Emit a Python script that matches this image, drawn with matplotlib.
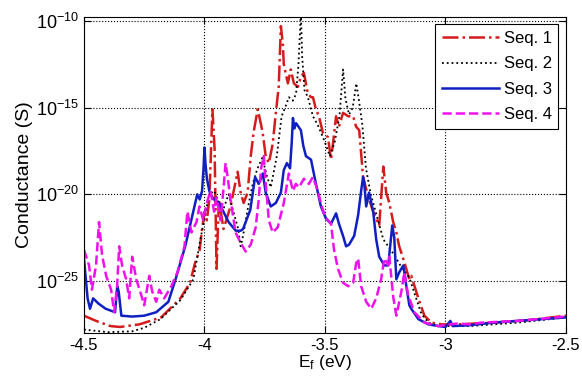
import matplotlib
matplotlib.use("Agg")
import matplotlib.pyplot as plt
import numpy as np

plt.rcParams['font.family'] = ['Liberation Sans', 'DejaVu Sans']
plt.rcParams['mathtext.fontset'] = 'custom'
plt.rcParams['mathtext.rm'] = 'Liberation Sans'
plt.rcParams['mathtext.it'] = 'Liberation Sans:italic'

# Fermi energy (eV) and log10 of conductance (S) for each sequence
e_seq1 = [-4.5, -4.45, -4.39, -4.35, -4.27, -4.18, -4.10, -4.06, -4.04, -4.02,
          -4.01, -4.00, -3.99, -3.98, -3.967, -3.958, -3.95, -3.94, -3.921, -3.892,
          -3.8625, -3.85, -3.8375, -3.821, -3.808, -3.796, -3.779, -3.765, -3.758, -3.746,
          -3.733, -3.717, -3.704, -3.692, -3.683, -3.675, -3.671, -3.654, -3.642, -3.629,
          -3.6125, -3.60, -3.5875, -3.571, -3.558, -3.55, -3.5375, -3.525, -3.508, -3.4875,
          -3.475, -3.467, -3.454, -3.442, -3.425, -3.404, -3.383, -3.371, -3.358, -3.342,
          -3.329, -3.317, -3.30, -3.2875, -3.275, -3.258, -3.246, -3.233, -3.217, -3.204,
          -3.192, -3.171, -3.15, -3.142, -3.1125, -3.0875, -3.058, -3.017, -2.95, -2.8,
          -2.65, -2.5]
g_seq1 = [-27.0, -27.3, -27.6, -27.65, -27.5, -27.1, -26.0, -25.1, -24.0, -23.2,
          -22.0, -21.0, -21.5, -20.3, -15.1, -17.4, -24.3, -20.3, -22.0, -20.7,
          -18.7, -19.9, -20.5, -19.9, -17.8, -16.4, -15.1, -16.0, -16.5, -17.8,
          -18.2, -17.1, -15.3, -13.8, -10.3, -11.3, -12.5, -13.6, -12.8, -13.6,
          -13.8, -13.2, -13.0, -14.2, -14.4, -14.4, -15.1, -15.5, -16.5, -16.7,
          -18.0, -17.1, -15.5, -16.1, -15.3, -15.5, -15.5, -16.1, -16.3, -19.0,
          -19.7, -20.3, -21.0, -21.4, -21.8, -18.4, -19.9, -20.5, -21.6, -22.2,
          -23.0, -23.9, -24.9, -24.7, -26.0, -27.0, -27.4, -27.5, -27.5, -27.4,
          -27.25, -27.0]

e_seq2 = [-4.5, -4.4, -4.3, -4.25, -4.183, -4.10, -4.046, -4.017, -3.996, -3.98,
          -3.96, -3.94, -3.92, -3.90, -3.88, -3.86, -3.85, -3.84, -3.82, -3.80,
          -3.78, -3.76, -3.74, -3.725, -3.70, -3.68, -3.66, -3.65, -3.633, -3.62,
          -3.61, -3.60, -3.595, -3.585, -3.571, -3.55, -3.53, -3.5, -3.48, -3.46,
          -3.44, -3.425, -3.415, -3.40, -3.385, -3.37, -3.36, -3.345, -3.33, -3.31,
          -3.29, -3.258, -3.2125, -3.183, -3.15, -3.129, -3.1, -3.071, -3.03, -2.9,
          -2.7, -2.5]
g_seq2 = [-27.8, -27.95, -27.9, -27.7, -27.2, -26.1, -24.9, -22.6, -21.1, -20.0,
          -19.8, -20.5, -20.8, -20.0, -21.0, -22.0, -23.0, -22.4, -20.8, -19.4,
          -18.5, -17.9, -19.0, -19.6, -17.8, -15.5, -14.8, -14.4, -14.6, -14.2,
          -12.5, -9.5, -12.0, -14.0, -14.4, -15.5, -16.0, -17.0, -17.8, -17.0,
          -15.5, -12.8, -14.5, -15.4, -15.0, -13.6, -14.5, -16.0, -18.5, -20.0,
          -21.0, -22.6, -23.5, -24.2, -24.8, -25.7, -26.9, -27.4, -27.6, -27.6,
          -27.4, -27.1]

e_seq3 = [-4.5, -4.485, -4.475, -4.462, -4.44, -4.41, -4.371, -4.362, -4.356, -4.345,
          -4.30, -4.25, -4.20, -4.15, -4.12, -4.08, -4.05, -4.03, -4.02, -4.01,
          -4.004, -4.0, -3.996, -3.99, -3.98, -3.975, -3.96, -3.94, -3.925, -3.90,
          -3.87, -3.85, -3.84, -3.81, -3.79, -3.775, -3.758, -3.746, -3.725, -3.704,
          -3.683, -3.671, -3.658, -3.645, -3.638, -3.633, -3.627, -3.62, -3.61, -3.60,
          -3.59, -3.579, -3.558, -3.5375, -3.517, -3.496, -3.475, -3.454, -3.442, -3.425,
          -3.4125, -3.40, -3.379, -3.3625, -3.35, -3.342, -3.3375, -3.329, -3.317, -3.30,
          -3.2875, -3.275, -3.254, -3.2375, -3.221, -3.2125, -3.204, -3.192, -3.175, -3.1625,
          -3.15, -3.142, -3.1125, -3.071, -3.029, -3.0, -2.98, -2.97, -2.9, -2.8,
          -2.7, -2.6, -2.5]
g_seq3 = [-23.7, -26.0, -26.6, -26.0, -26.3, -26.6, -26.8, -25.3, -25.6, -27.0,
          -27.05, -27.0, -26.8, -26.2, -24.9, -23.0, -21.2, -20.0, -20.3, -19.8,
          -18.5, -17.3, -18.2, -19.1, -19.8, -20.0, -20.3, -20.5, -20.9, -21.6,
          -22.1, -22.1, -22.0, -20.9, -19.0, -19.4, -18.8, -19.9, -20.7, -20.5,
          -19.9, -18.6, -18.2, -18.5, -17.0, -15.6, -16.2, -15.9, -16.1, -16.3,
          -17.2, -17.8, -18.0, -19.4, -20.7, -21.4, -21.7, -21.1, -21.7, -22.4,
          -23.0, -22.9, -22.4, -21.2, -19.8, -19.0, -19.3, -20.7, -19.9, -21.0,
          -22.6, -23.6, -24.1, -24.1, -21.8, -22.5, -24.9, -24.5, -24.1, -25.3,
          -26.4, -26.6, -27.2, -27.5, -27.6, -27.65, -27.3, -27.6, -27.55, -27.4,
          -27.3, -27.2, -27.1]

e_seq4 = [-4.5, -4.479, -4.467, -4.45, -4.4375, -4.425, -4.408, -4.3875, -4.375, -4.3625,
          -4.354, -4.342, -4.325, -4.3125, -4.30, -4.283, -4.2625, -4.25, -4.229, -4.217,
          -4.20, -4.1875, -4.167, -4.1375, -4.1125, -4.083, -4.071, -4.054, -4.033, -4.021,
          -4.005, -3.99, -3.975, -3.96, -3.95, -3.933, -3.92, -3.9125, -3.904, -3.892,
          -3.871, -3.85, -3.829, -3.808, -3.7875, -3.775, -3.765, -3.754, -3.745, -3.733,
          -3.717, -3.696, -3.671, -3.65, -3.633, -3.621, -3.608, -3.5875, -3.567, -3.55,
          -3.53, -3.517, -3.5, -3.475, -3.4625, -3.446, -3.425, -3.404, -3.383, -3.371,
          -3.3625, -3.35, -3.329, -3.308, -3.2875, -3.267, -3.254, -3.2375, -3.233, -3.217,
          -3.204, -3.183, -3.171, -3.154, -3.15, -3.129, -3.0875, -3.03, -2.98, -2.95,
          -2.90, -2.85, -2.7, -2.5]
g_seq4 = [-23.2, -24.1, -25.5, -24.1, -21.6, -23.5, -24.7, -25.5, -26.8, -25.3,
          -23.0, -24.1, -24.9, -26.0, -23.6, -24.9, -25.8, -26.4, -24.7, -25.6,
          -26.2, -25.5, -26.0, -25.3, -24.5, -23.0, -21.0, -22.2, -21.6, -20.7,
          -21.5, -20.5, -19.8, -21.0, -20.2, -21.5, -19.5, -18.2, -19.0, -20.3,
          -22.2, -22.8, -23.3, -22.9, -21.9, -20.3, -18.5, -17.8, -19.5, -21.5,
          -22.2, -21.9, -20.5, -18.8, -19.8, -19.4, -19.6, -19.1, -19.4, -19.0,
          -19.8, -20.5, -21.3, -21.7, -23.2, -24.3, -25.1, -25.3, -25.1, -24.0,
          -23.7, -25.3, -26.2, -26.6, -26.0, -24.9, -23.7, -24.1, -23.6, -25.9,
          -27.0, -25.6, -24.5, -25.9, -26.0, -26.8, -27.4, -27.6, -27.5, -27.45,
          -27.5, -27.4, -27.3, -27.05]

fig = plt.figure(figsize=(5.82, 3.85), dpi=100)
ax = fig.add_axes([0.1443, 0.135, 0.8282, 0.821])

ax.semilogy(e_seq1, 10.0 ** np.array(g_seq1), color="#d41c1c", linestyle="-.", linewidth=1.8, label="Seq. 1")
ax.semilogy(e_seq2, 10.0 ** np.array(g_seq2), color="black", linestyle=":", linewidth=1.3, label="Seq. 2")
ax.semilogy(e_seq3, 10.0 ** np.array(g_seq3), color="#1020c0", linestyle="-", linewidth=1.8, label="Seq. 3")
ax.semilogy(e_seq4, 10.0 ** np.array(g_seq4), color="#ee11ee", linestyle="--", linewidth=1.8, label="Seq. 4")

ax.set_xlim(-4.5, -2.5)
ax.set_ylim(1e-28, 10 ** -9.77)
ax.set_xticks([-4.5, -4, -3.5, -3, -2.5])
ax.set_xticklabels(["-4.5", "-4", "-3.5", "-3", "-2.5"])
ax.set_yticks([1e-25, 1e-20, 1e-15, 1e-10])
ax.yaxis.set_minor_locator(matplotlib.ticker.NullLocator())
ax.tick_params(direction="in", top=True, right=True, labelsize=12, length=5)
ax.tick_params(axis="y", labelsize=13)
ax.grid(True, linestyle=":", color="black", linewidth=0.8)

ax.set_xlabel("E$_\\mathrm{f}$ (eV)", fontsize=12.5, labelpad=0)
ax.set_ylabel("Conductance (S)", fontsize=14, labelpad=2)

leg = ax.legend(loc="upper right", fontsize=12, handlelength=3.4, fancybox=False,
                framealpha=1, edgecolor="black", borderaxespad=0.45, labelspacing=0.62,
                handletextpad=0.3, borderpad=0.4)
leg.get_frame().set_linewidth(0.8)

fig.savefig("out.png", dpi=100)
